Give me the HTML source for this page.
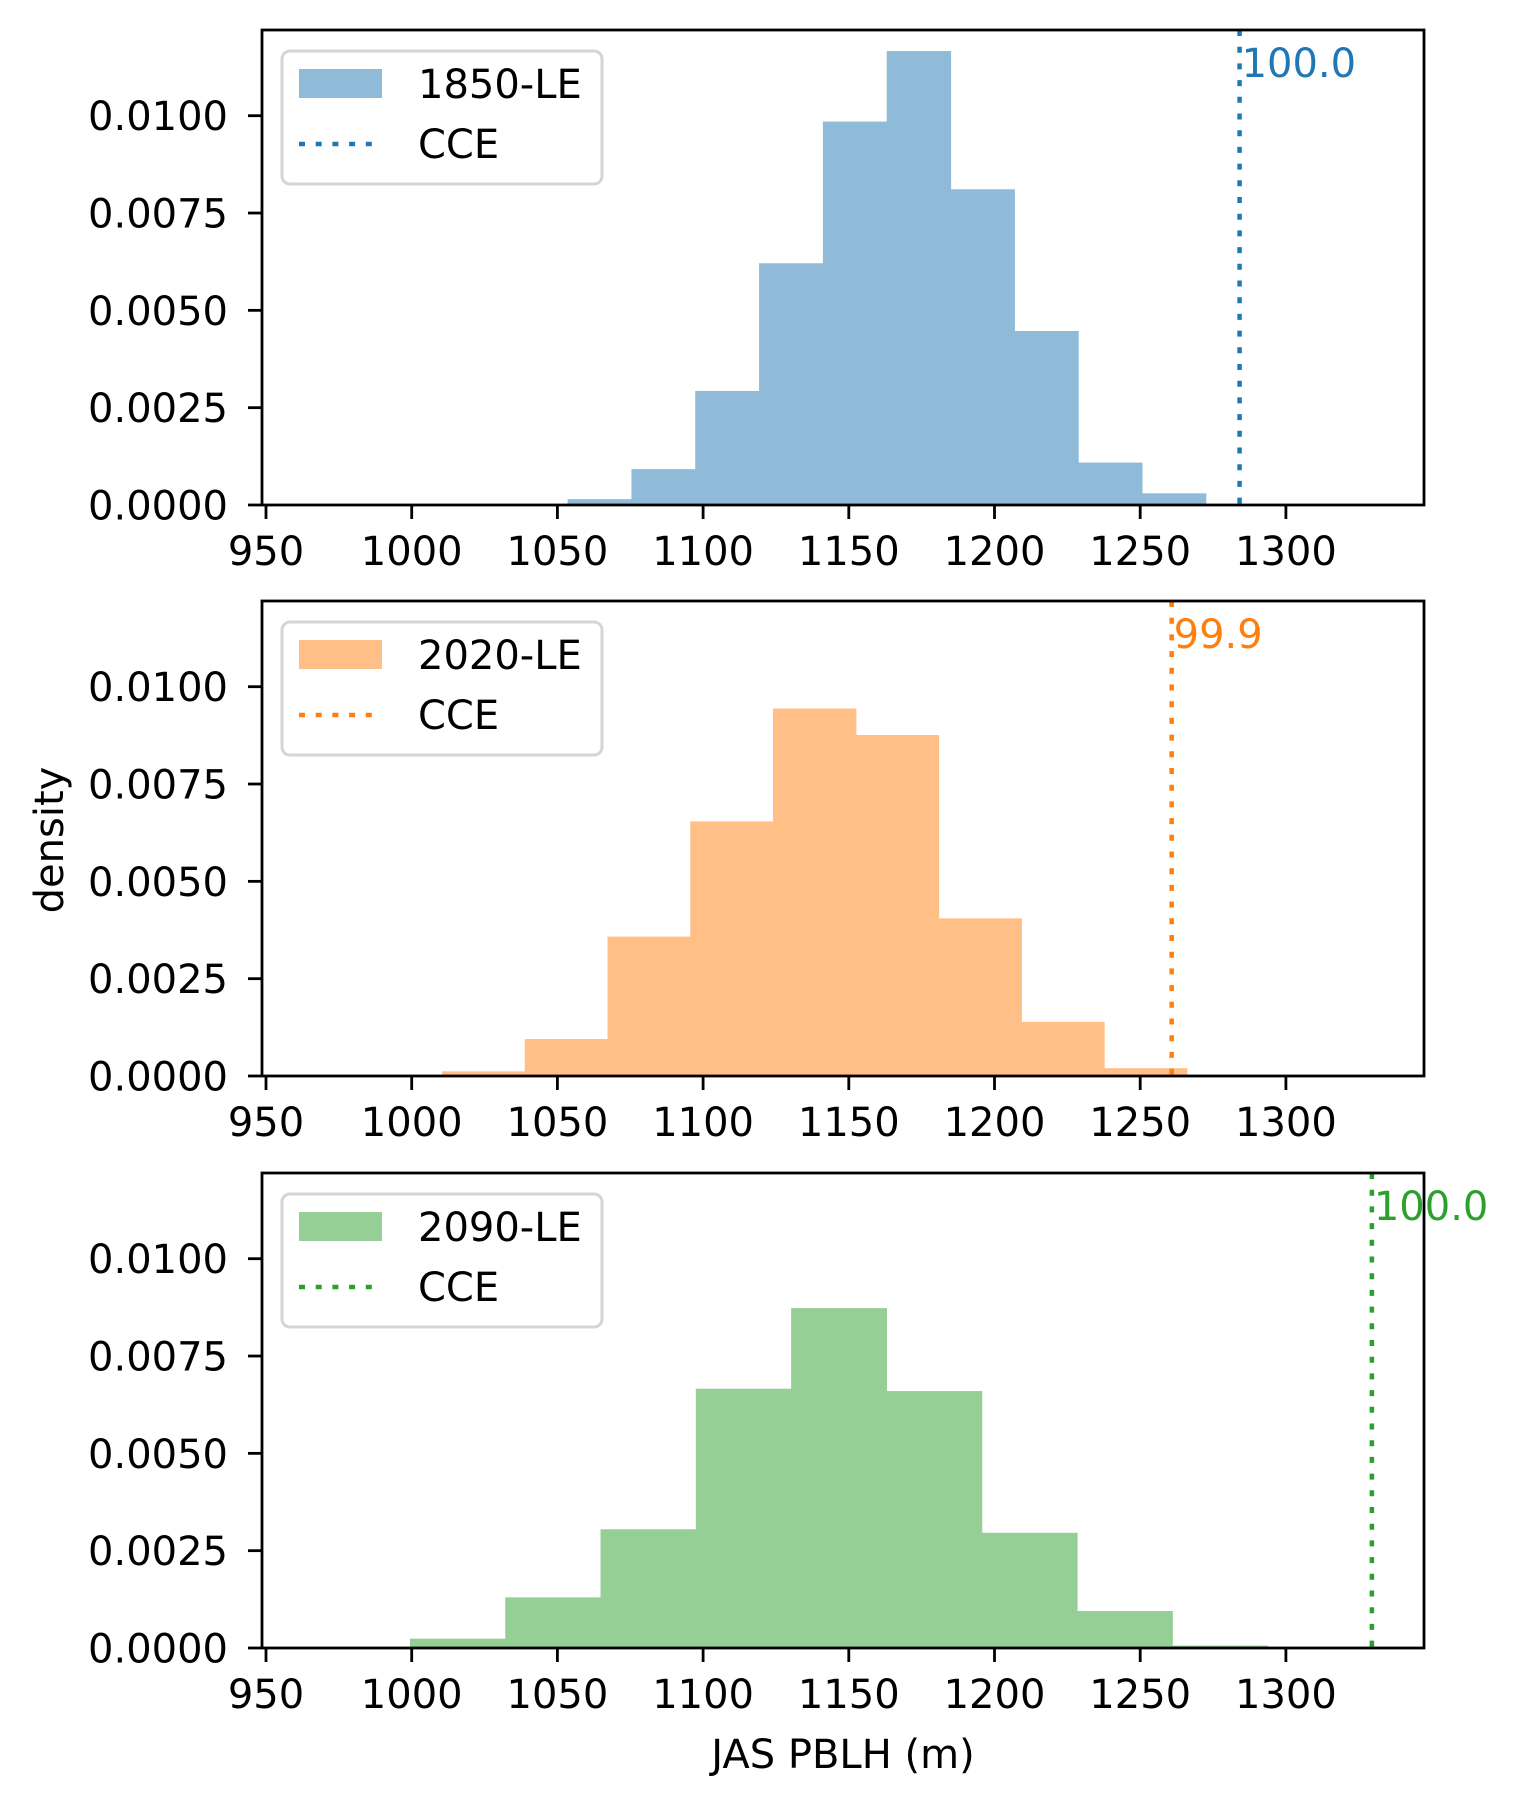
<!DOCTYPE html>
<html><head><meta charset="utf-8"><style>
html,body{margin:0;padding:0;background:#fff}
svg{display:block}
text{font-family:"DejaVu Sans","Liberation Sans",sans-serif}
</style></head><body>
<svg id="fig" width="1520" height="1802" viewBox="0 0 1520 1802" xmlns="http://www.w3.org/2000/svg"></svg>
<script>
// ---- data ----
const xTicks = [950,1000,1050,1100,1150,1200,1250,1300];
const yTicks = [0,0.0025,0.005,0.0075,0.01];
const yTickLabels = ["0.0000","0.0025","0.0050","0.0075","0.0100"];
const names = ["1850-LE","2020-LE","2090-LE"];
const binStart1 = 1053.5, binWidth1 = 21.9;
const dens1 = [0.00015,0.00092,0.00293,0.00621,0.00985,0.01166,0.00811,0.00447,0.00109,0.0003];
const binStart2 = 1010.4, binWidth2 = 28.4;
const dens2 = [0.00012,0.00095,0.00358,0.00654,0.00944,0.00876,0.00405,0.00139,0.0002];
const binStart3 = 999.4, binWidth3 = 32.7;
const dens3 = [0.00024,0.0013,0.00305,0.00666,0.00873,0.0066,0.00296,0.00095,0.00006];
const cceValues = [1284.1,1260.8,1329.5];
const cceLabels = ["100.0","99.9","100.0"];

const NS="http://www.w3.org/2000/svg";
const svg=document.getElementById('fig');
function mk(tag,attrs,parent){const e=document.createElementNS(NS,tag);for(const k in attrs)e.setAttribute(k,attrs[k]);(parent||svg).appendChild(e);return e;}
const L=262,R=1424,H=475,FS=40;
const tops=[30,601,1173];
const fills=["#8fbbd9","#ffbf86","#95cf95"];
const lines=["#1f77b4","#ff7f0e","#2ca02c"];
const starts=[binStart1,binStart2,binStart3];
const widths=[binWidth1,binWidth2,binWidth3];
const dens=[dens1,dens2,dens3];
function xs(v){return 266+(v-950)*2.914;}

for(let p=0;p<3;p++){
  const top=tops[p],bot=top+H;
  function ys(v){return bot-v*38930;}
  const g=mk('g',{});
  
  
  dens[p].forEach((d,i)=>{
    const x0=xs(starts[p]+i*widths[p]),x1=xs(starts[p]+(i+1)*widths[p]);
    const r=mk('rect',{x:x0,y:ys(d),width:x1-x0+0.6,height:bot-ys(d),fill:fills[p]},g);
    
    
  });
  const cx=xs(cceValues[p]);
  const cl=mk('line',{x1:cx,x2:cx,y1:top,y2:bot,stroke:lines[p],'stroke-width':4.5,'stroke-dasharray':'6 10.7'},g);
  
  
  const ct=mk('text',{x:cx+2,y:top+47,fill:lines[p],'font-size':FS},g);
  ct.textContent=cceLabels[p];
  
  
  const fr=mk('rect',{x:L,y:top,width:R-L,height:H,fill:'none',stroke:'#000','stroke-width':2.8},g);
  
  
  xTicks.forEach(t=>{
    const x=xs(t);
    mk('line',{x1:x,x2:x,y1:bot,y2:bot+14,stroke:'#000','stroke-width':2.8},g);
    const tx=mk('text',{x:x,y:bot+60,'font-size':FS,'text-anchor':'middle'},g);
    tx.textContent=t;
    
    
  });
  yTicks.forEach((t,i)=>{
    const y=ys(t);
    mk('line',{x1:L-14,x2:L,y1:y,y2:y,stroke:'#000','stroke-width':2.8},g);
    const ty=mk('text',{x:228,y:y+14.5,'font-size':FS,'text-anchor':'end'},g);
    ty.textContent=yTickLabels[i];
    
    
  });
  const lg=mk('g',{},g);
  
  
  mk('rect',{x:282,y:top+21,width:320,height:133,rx:8,fill:'#fff',stroke:'#d5d5d5','stroke-width':3},lg);
  mk('rect',{x:299,y:top+39,width:83,height:29,fill:fills[p]},lg);
  mk('line',{x1:299,x2:382,y1:top+114,y2:top+114,stroke:lines[p],'stroke-width':4.5,'stroke-dasharray':'6 10.7'},lg);
  const t1=mk('text',{x:418,y:top+68,'font-size':FS},lg);t1.textContent=names[p];
  
  
  const t2=mk('text',{x:418,y:top+128,'font-size':FS},lg);t2.textContent='CCE';
  
  
}
const yl=mk('text',{x:0,y:0,'font-size':FS,'text-anchor':'middle',transform:'translate(63,840) rotate(-90)'});
yl.textContent='density';


const xl=mk('text',{x:843,y:1768,'font-size':FS,'text-anchor':'middle'});
xl.textContent='JAS PBLH (m)';


</script>
</body></html>
